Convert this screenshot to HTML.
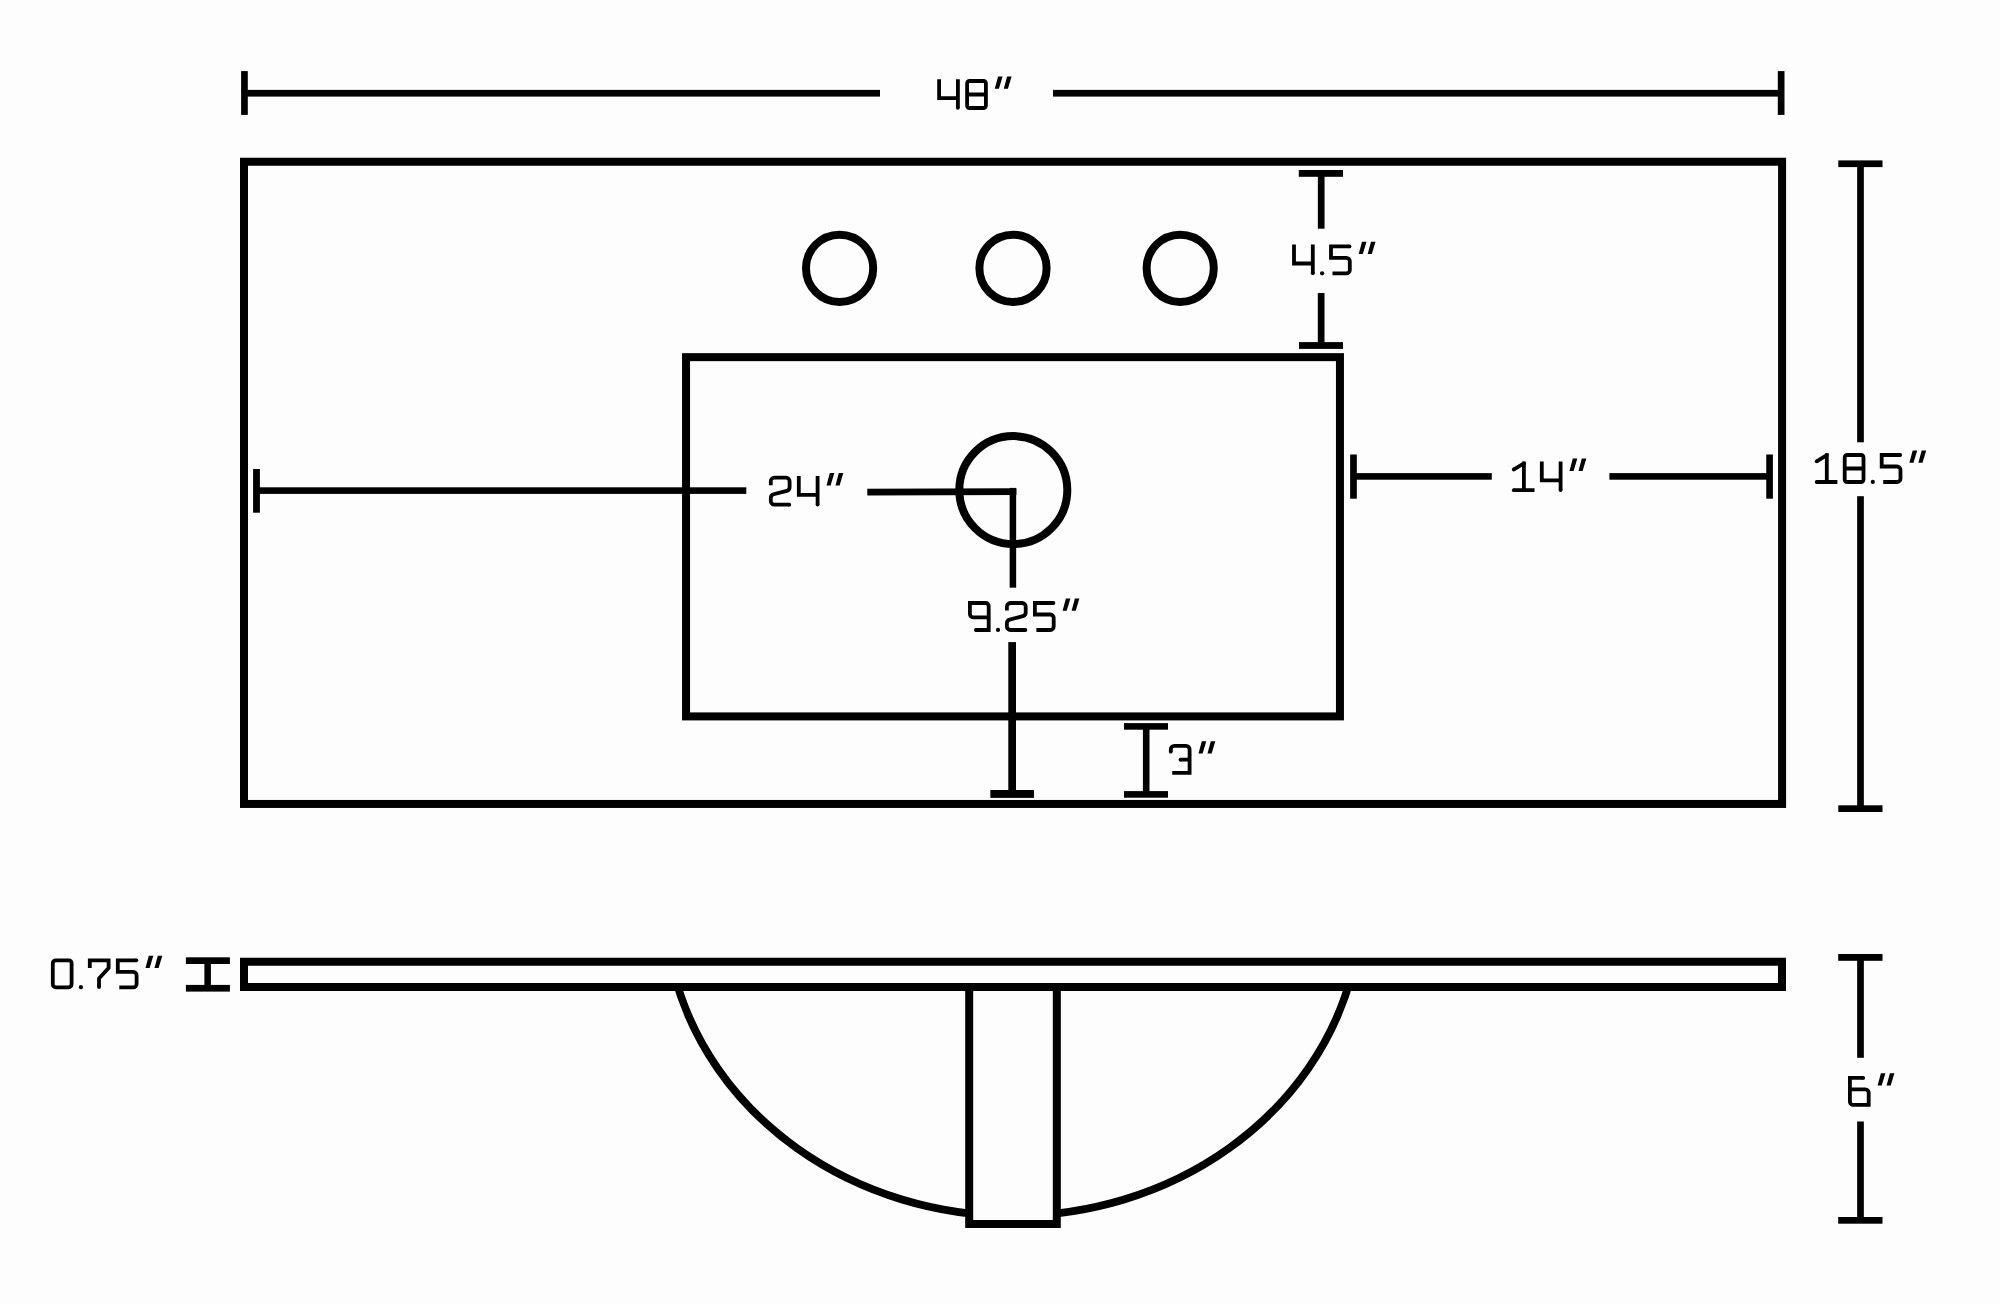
<!DOCTYPE html>
<html><head><meta charset="utf-8"><title>Vanity top dimensions</title>
<style>
html,body{margin:0;padding:0;background:#fdfdfd;font-family:"Liberation Sans",sans-serif;}
svg{display:block;}
</style></head>
<body>
<svg width="2000" height="1304" viewBox="0 0 2000 1304">
<rect x="0" y="0" width="2000" height="1304" fill="#fdfdfd"/>
<g fill="none" stroke="#000" stroke-width="8" stroke-linejoin="miter">
<rect x="244" y="161.75" width="1538.1" height="642.2"/>
<rect x="686.05" y="357.15" width="653.9" height="359.25"/>
<circle cx="839.6" cy="268.3" r="33.6"/>
<circle cx="1013.0" cy="268.3" r="33.6"/>
<circle cx="1180.2" cy="268.3" r="33.6"/>
<circle cx="1013.3" cy="490.1" r="54"/>
<path stroke-width="7.8" d="M674.44,975 A347.9,312.8 0 0 0 1351.56,975"/>
<rect x="969.2" y="987" width="87.6" height="237" fill="#fdfdfd"/>
<rect x="244" y="961.75" width="1538.0" height="25.25" fill="#fdfdfd"/>
</g>
<g fill="#000" stroke="none">
<rect x="241.10" y="71.10" width="6.70" height="43.80"/>
<rect x="1777.80" y="71.10" width="6.70" height="43.80"/>
<rect x="244.00" y="89.90" width="636.00" height="6.70"/>
<rect x="1053.00" y="89.90" width="728.00" height="6.70"/>
<rect x="1298.80" y="170.00" width="44.20" height="6.80"/>
<rect x="1317.85" y="173.00" width="6.70" height="55.70"/>
<rect x="1317.80" y="293.00" width="6.70" height="52.00"/>
<rect x="1299.00" y="342.10" width="44.00" height="6.80"/>
<rect x="253.10" y="469.00" width="6.80" height="43.70"/>
<rect x="256.00" y="487.30" width="490.30" height="6.60"/>
<path d="M867.3,488.8 L1016.4,488.3 V495.1 L867.3,495.5 Z"/>
<rect x="1009.65" y="487.90" width="6.50" height="99.75"/>
<rect x="1008.30" y="642.10" width="7.70" height="151.90"/>
<rect x="990.35" y="790.00" width="43.65" height="7.90"/>
<rect x="1350.15" y="454.50" width="6.65" height="44.20"/>
<rect x="1766.25" y="454.50" width="6.65" height="44.20"/>
<rect x="1353.00" y="473.10" width="138.80" height="6.60"/>
<rect x="1609.40" y="473.10" width="160.60" height="6.60"/>
<rect x="1838.30" y="160.40" width="44.20" height="6.70"/>
<rect x="1857.15" y="163.00" width="6.70" height="279.30"/>
<rect x="1857.15" y="496.20" width="6.70" height="311.80"/>
<rect x="1838.30" y="805.30" width="44.20" height="6.70"/>
<rect x="1124.00" y="723.10" width="44.00" height="6.60"/>
<rect x="1142.90" y="726.00" width="6.60" height="69.00"/>
<rect x="1124.00" y="791.10" width="44.00" height="6.60"/>
<rect x="185.90" y="957.30" width="44.00" height="6.70"/>
<rect x="204.40" y="960.00" width="6.50" height="28.00"/>
<rect x="185.90" y="984.90" width="44.00" height="6.70"/>
<rect x="1838.20" y="954.00" width="44.30" height="6.80"/>
<rect x="1857.15" y="957.00" width="6.70" height="100.80"/>
<rect x="1857.15" y="1121.50" width="6.70" height="98.50"/>
<rect x="1838.20" y="1217.00" width="44.30" height="6.70"/>
</g>
<g fill="none" stroke="#000" stroke-width="3.8" stroke-linecap="butt" stroke-linejoin="miter">
<g transform="translate(937.10,79.00)"><path d="M2,0.2 V19.1 H20.8 M20.8,0.2 V28.8"/><circle cx="20.8" cy="28.8" r="1.9" fill="#000" stroke="none"/></g>
<g transform="translate(965.10,79.00)"><path d="M4.4,2 H18.400000000000002 A2.4,2.4 0 0 1 20.8,4.4 V26.6 A2.4,2.4 0 0 1 18.400000000000002,29 H4.4 A2.4,2.4 0 0 1 2,26.6 V4.4 A2.4,2.4 0 0 1 4.4,2 Z M2,15.5 H20.8"/></g>
<path fill="#000" stroke="none" d="M998.10,76.40 h4.5 l-3.7,12.3 h-4.1 Z"/>
<path fill="#000" stroke="none" d="M1007.10,76.40 h4.5 l-3.7,12.3 h-4.1 Z"/>
<g transform="translate(1292.00,244.40)"><path d="M2,0.2 V19.1 H20.8 M20.8,0.2 V28.8"/><circle cx="20.8" cy="28.8" r="1.9" fill="#000" stroke="none"/></g>
<circle cx="1322.10" cy="273.30" r="2.1" fill="#000" stroke="none"/>
<g transform="translate(1329.00,244.40)"><path d="M20.5,2 H2 V13.5 H17.400000000000002 A3.4,3.4 0 0 1 20.8,16.9 V25.6 A3.4,3.4 0 0 1 17.400000000000002,29 H3.5"/><circle cx="20.5" cy="2" r="1.9" fill="#000" stroke="none"/></g>
<path fill="#000" stroke="none" d="M1362.00,241.80 h4.5 l-3.7,12.3 h-4.1 Z"/>
<path fill="#000" stroke="none" d="M1371.00,241.80 h4.5 l-3.7,12.3 h-4.1 Z"/>
<g transform="translate(768.80,475.70)"><path d="M2,9.6 V5.6 A3.6,3.6 0 0 1 5.6,2 H17.2 A3.6,3.6 0 0 1 20.8,5.6 V11.6 Q20.8,14.4 18.0,15.15 L4.8,18.55 Q2,19.3 2,22.2 V25.4 A3.6,3.6 0 0 0 5.6,29 H20.5"/><circle cx="20.5" cy="29" r="1.9" fill="#000" stroke="none"/></g>
<g transform="translate(796.80,475.70)"><path d="M2,0.2 V19.1 H20.8 M20.8,0.2 V28.8"/><circle cx="20.8" cy="28.8" r="1.9" fill="#000" stroke="none"/></g>
<path fill="#000" stroke="none" d="M829.80,473.10 h4.5 l-3.7,12.3 h-4.1 Z"/>
<path fill="#000" stroke="none" d="M838.80,473.10 h4.5 l-3.7,12.3 h-4.1 Z"/>
<g transform="translate(1511.80,461.20)"><path d="M2,8.3 L12.1,2.1 M12.1,0.2 V29 M2,29 H22.7"/><circle cx="2" cy="8.3" r="1.9" fill="#000" stroke="none"/><circle cx="12.1" cy="2.1" r="1.9" fill="#000" stroke="none"/><circle cx="2" cy="29" r="1.9" fill="#000" stroke="none"/></g>
<g transform="translate(1539.80,461.20)"><path d="M2,0.2 V19.1 H20.8 M20.8,0.2 V28.8"/><circle cx="20.8" cy="28.8" r="1.9" fill="#000" stroke="none"/></g>
<path fill="#000" stroke="none" d="M1572.80,458.60 h4.5 l-3.7,12.3 h-4.1 Z"/>
<path fill="#000" stroke="none" d="M1581.80,458.60 h4.5 l-3.7,12.3 h-4.1 Z"/>
<g transform="translate(1814.70,453.00)"><path d="M2,8.3 L12.1,2.1 M12.1,0.2 V29 M2,29 H22.7"/><circle cx="2" cy="8.3" r="1.9" fill="#000" stroke="none"/><circle cx="12.1" cy="2.1" r="1.9" fill="#000" stroke="none"/><circle cx="2" cy="29" r="1.9" fill="#000" stroke="none"/></g>
<g transform="translate(1842.70,453.00)"><path d="M4.4,2 H18.400000000000002 A2.4,2.4 0 0 1 20.8,4.4 V26.6 A2.4,2.4 0 0 1 18.400000000000002,29 H4.4 A2.4,2.4 0 0 1 2,26.6 V4.4 A2.4,2.4 0 0 1 4.4,2 Z M2,15.5 H20.8"/></g>
<circle cx="1872.80" cy="481.90" r="2.1" fill="#000" stroke="none"/>
<g transform="translate(1879.70,453.00)"><path d="M20.5,2 H2 V13.5 H17.400000000000002 A3.4,3.4 0 0 1 20.8,16.9 V25.6 A3.4,3.4 0 0 1 17.400000000000002,29 H3.5"/><circle cx="20.5" cy="2" r="1.9" fill="#000" stroke="none"/></g>
<path fill="#000" stroke="none" d="M1912.70,450.40 h4.5 l-3.7,12.3 h-4.1 Z"/>
<path fill="#000" stroke="none" d="M1921.70,450.40 h4.5 l-3.7,12.3 h-4.1 Z"/>
<g transform="translate(967.90,601.00)"><path d="M20.8,16.3 H5.2 A3.2,3.2 0 0 1 2,13.100000000000001 V2 H17.6 A3.2,3.2 0 0 1 20.8,5.2 V29 H8"/><circle cx="8" cy="29" r="1.9" fill="#000" stroke="none"/></g>
<circle cx="998.00" cy="629.90" r="2.1" fill="#000" stroke="none"/>
<g transform="translate(1004.90,601.00)"><path d="M2,9.6 V5.6 A3.6,3.6 0 0 1 5.6,2 H17.2 A3.6,3.6 0 0 1 20.8,5.6 V11.6 Q20.8,14.4 18.0,15.15 L4.8,18.55 Q2,19.3 2,22.2 V25.4 A3.6,3.6 0 0 0 5.6,29 H20.5"/><circle cx="20.5" cy="29" r="1.9" fill="#000" stroke="none"/></g>
<g transform="translate(1032.90,601.00)"><path d="M20.5,2 H2 V13.5 H17.400000000000002 A3.4,3.4 0 0 1 20.8,16.9 V25.6 A3.4,3.4 0 0 1 17.400000000000002,29 H3.5"/><circle cx="20.5" cy="2" r="1.9" fill="#000" stroke="none"/></g>
<path fill="#000" stroke="none" d="M1065.90,598.40 h4.5 l-3.7,12.3 h-4.1 Z"/>
<path fill="#000" stroke="none" d="M1074.90,598.40 h4.5 l-3.7,12.3 h-4.1 Z"/>
<g transform="translate(1168.80,743.80)"><path d="M2,7.9 V5.6 A3.6,3.6 0 0 1 5.6,2 H17.2 A3.6,3.6 0 0 1 20.8,5.6 V29 H3.4 M20.8,15.9 H11.7"/><circle cx="2" cy="7.9" r="1.9" fill="#000" stroke="none"/><circle cx="11.7" cy="15.9" r="1.9" fill="#000" stroke="none"/></g>
<path fill="#000" stroke="none" d="M1201.80,741.20 h4.5 l-3.7,12.3 h-4.1 Z"/>
<path fill="#000" stroke="none" d="M1210.80,741.20 h4.5 l-3.7,12.3 h-4.1 Z"/>
<g transform="translate(50.80,958.30)"><path d="M5.0,2 H17.8 A3.0,3.0 0 0 1 20.8,5.0 V26.0 A3.0,3.0 0 0 1 17.8,29 H5.0 A3.0,3.0 0 0 1 2,26.0 V5.0 A3.0,3.0 0 0 1 5.0,2 Z"/></g>
<circle cx="80.90" cy="987.20" r="2.1" fill="#000" stroke="none"/>
<g transform="translate(87.80,958.30)"><path d="M2,9.7 V2 H20.8 V9.8 L11.2,20.1 V28.8"/><circle cx="11.2" cy="28.8" r="1.9" fill="#000" stroke="none"/></g>
<g transform="translate(115.80,958.30)"><path d="M20.5,2 H2 V13.5 H17.400000000000002 A3.4,3.4 0 0 1 20.8,16.9 V25.6 A3.4,3.4 0 0 1 17.400000000000002,29 H3.5"/><circle cx="20.5" cy="2" r="1.9" fill="#000" stroke="none"/></g>
<path fill="#000" stroke="none" d="M148.80,955.70 h4.5 l-3.7,12.3 h-4.1 Z"/>
<path fill="#000" stroke="none" d="M157.80,955.70 h4.5 l-3.7,12.3 h-4.1 Z"/>
<g transform="translate(1847.90,1075.90)"><path d="M15.3,2 H2 V25.6 A3.4,3.4 0 0 0 5.4,29 H20.8 V16.9 A3.4,3.4 0 0 0 17.400000000000002,13.5 H2"/><circle cx="15.3" cy="2" r="1.9" fill="#000" stroke="none"/></g>
<path fill="#000" stroke="none" d="M1880.90,1073.30 h4.5 l-3.7,12.3 h-4.1 Z"/>
<path fill="#000" stroke="none" d="M1889.90,1073.30 h4.5 l-3.7,12.3 h-4.1 Z"/>
</g>
</svg>
</body></html>
